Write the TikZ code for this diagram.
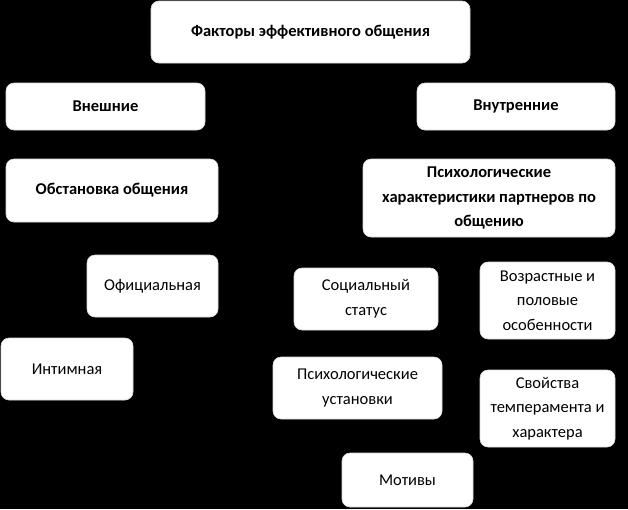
\documentclass[tikz,border=0pt]{standalone}
\usepackage{fontspec}
\setmainfont{Carlito}
\begin{document}
\begin{tikzpicture}[x=1pt,y=-1pt,
  box/.style={fill=white,draw=white!85!black,line width=0.6pt,rounded corners=8pt,inner sep=0pt,align=center,font=\fontsize{16.5}{24.5}\selectfont},
  bbox/.style={box,font=\fontsize{16.5}{24.5}\selectfont\bfseries}]
\fill[black] (0,0) rectangle (628,509);
\useasboundingbox (0,0) rectangle (628,509);
\node[bbox,minimum width=319pt,minimum height=62pt] (title) at (310.5,32) {Факторы эффективного общения};
\node[bbox,minimum width=199pt,minimum height=47pt] (ext) at (105.5,106.5) {Внешние};
\node[bbox,minimum width=198pt,minimum height=47pt] (int) at (516,106.5) {Внутренние};
\node[bbox,minimum width=212pt,minimum height=63pt] (obst) at (112,190.5) {Обстановка общения};
\node[bbox,minimum width=252pt,minimum height=78pt] (psy) at (489,198) {Психологические\\характеристики партнеров по\\общению};
\node[box,minimum width=131pt,minimum height=62pt] (ofic) at (152.5,286) {Официальная};
\node[box,minimum width=132pt,minimum height=62pt] (intim) at (67,369) {Интимная};
\node[box,minimum width=144pt,minimum height=62pt] (soc) at (366,299) {Социальный\\статус};
\node[box,minimum width=135pt,minimum height=77pt] (vozr) at (547.5,300.5) {Возрастные и\\половые\\особенности};
\node[box,minimum width=169pt,minimum height=62pt] (ust) at (357.5,388) {Психологические\\установки};
\node[box,minimum width=135pt,minimum height=77pt] (svo) at (547.5,408.5) {Свойства\\темперамента и\\характера};
\node[box,minimum width=131pt,minimum height=54pt] (mot) at (407.5,480) {Мотивы};
\end{tikzpicture}
\end{document}
